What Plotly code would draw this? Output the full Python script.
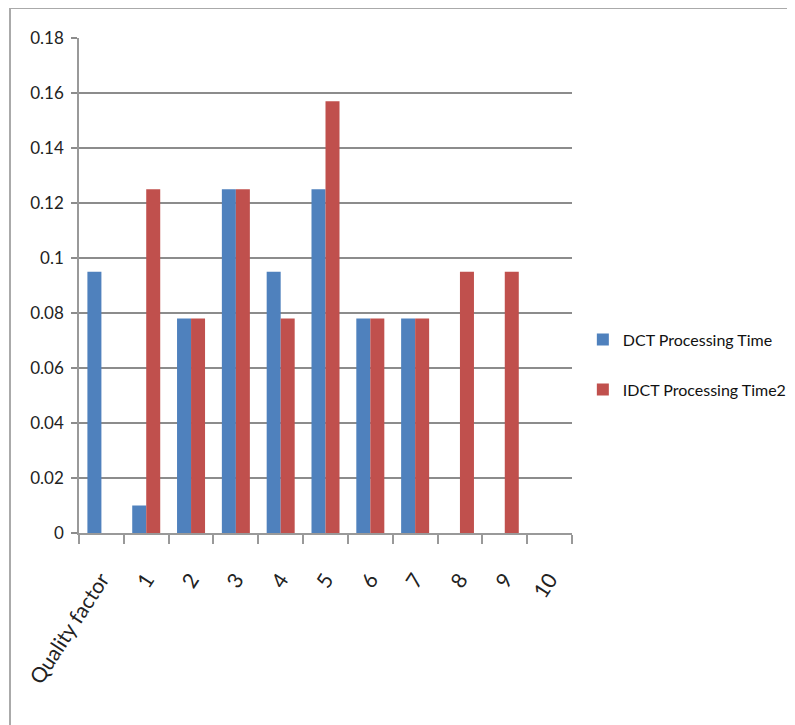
import plotly.graph_objects as go

categories = ["Quality factor", "1", "2", "3", "4", "5", "6", "7", "8", "9", "10"]
dct_time = [0.095, 0.010, 0.078, 0.125, 0.095, 0.125, 0.078, 0.078, 0, 0, 0]
idct_time = [0, 0.125, 0.078, 0.125, 0.078, 0.157, 0.078, 0.078, 0.095, 0.095, 0]
y_ticks = [0, 0.02, 0.04, 0.06, 0.08, 0.1, 0.12, 0.14, 0.16, 0.18]
y_tick_text = ["0", "0.02", "0.04", "0.06", "0.08", "0.1", "0.12", "0.14", "0.16", "0.18"]

# page body has an 8px margin, so the figure is drawn 8px in from the top-left
W, H = 787, 717
L, R, T, B = 71, 223, 30, 192
pw, ph = W - L - R, H - T - B

fig = go.Figure()
fig.add_trace(go.Bar(x=categories, y=dct_time, name="DCT Processing Time",
                     marker=dict(color="#4F81BD", line=dict(width=0)), legendgroup="a"))
fig.add_trace(go.Bar(x=categories, y=idct_time, name="IDCT Processing Time2",
                     marker=dict(color="#C0504D", line=dict(width=0)), legendgroup="b"))

font = "Lato, 'Liberation Sans', sans-serif"
fig.update_layout(
    width=W, height=H,
    margin=dict(l=L, r=R, t=T, b=B, autoexpand=False),
    paper_bgcolor="white", plot_bgcolor="white",
    barmode="group", bargap=0.375, bargroupgap=0,
    font=dict(family=font, size=15, color="#222222"),
    showlegend=True,
    legend=dict(x=1.022, y=0.34, xanchor="left", yanchor="middle",
                font=dict(size=16, color="#111111"), tracegroupgap=26,
                itemwidth=30, bgcolor="rgba(0,0,0,0)"),
    xaxis=dict(type="category", tickson="boundaries", ticks="outside", ticklen=9,
               tickcolor="#999999", tickwidth=1.5, automargin=False,
               showline=True, linecolor="#999999", linewidth=2,
               tickangle=-57, tickfont=dict(size=21, color="#222222"),
               ticklabelstandoff=24,
               showgrid=False, range=[-0.5, 10.5]),
    yaxis=dict(range=[0, 0.18], tickvals=y_ticks, ticktext=y_tick_text,
               showgrid=True, gridcolor="#8c8c8c", gridwidth=1.5, automargin=False,
               ticks="outside", ticklen=6, tickcolor="#8c8c8c", tickwidth=1.5,
               showline=True, linecolor="#999999", linewidth=1.5, ticklabelstandoff=4,
               zeroline=False, tickfont=dict(size=17, color="#222222")),
)

# outer frame lines (top and left) of the original picture
x_left = (2 - L) / pw
y_top = (H - B - 0) / ph
fig.add_shape(type="line", xref="paper", yref="paper", x0=x_left, x1=(W - L) / pw + 0.05,
              y0=y_top, y1=y_top, line=dict(color="#aaaaaa", width=2))
fig.add_shape(type="line", xref="paper", yref="paper", x0=x_left, x1=x_left,
              y0=y_top, y1=-B / ph - 0.01, line=dict(color="#aaaaaa", width=2))

fig.write_html("out.html")
